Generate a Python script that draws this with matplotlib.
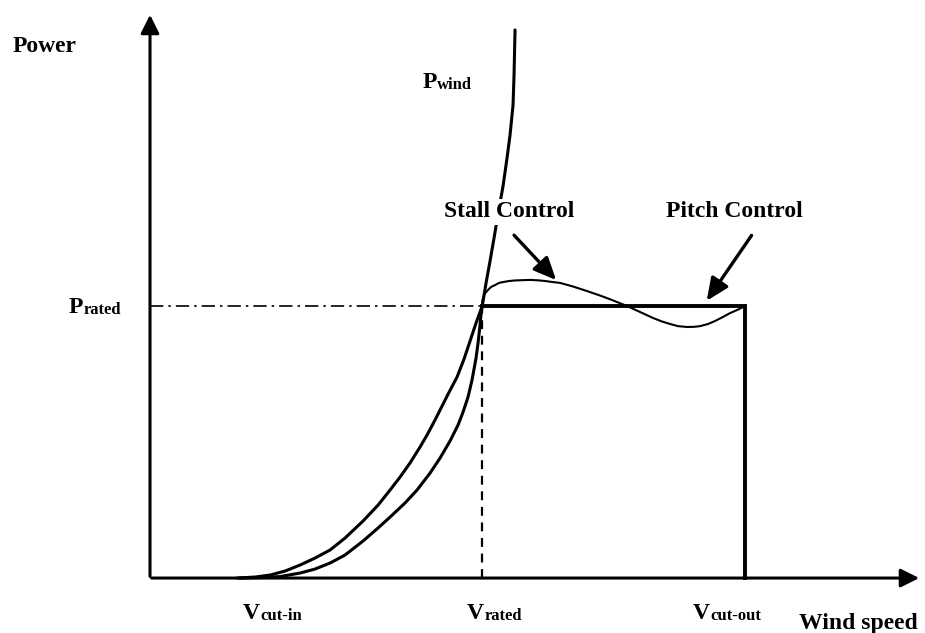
import matplotlib.pyplot as plt
import numpy as np

# characteristic wind speeds (m/s) and rated power (p.u.)
v_cut_in = 3.0
v_rated = 11.0
v_cut_out = 19.7
p_rated = 1.0

# available wind power curve
wind_v = [2.881, 3.477, 3.974, 4.470, 4.967, 5.464, 5.960, 6.457, 7.053, 7.550, 7.947,
          8.278, 8.609, 8.940, 9.172, 9.437, 9.603, 9.868, 10.166, 10.397, 10.596,
          10.795, 11.0, 11.126, 11.258, 11.391, 11.523, 11.689, 11.821, 11.921,
          12.020, 12.053, 12.086]
wind_p = [0.0, 0.0037, 0.011, 0.0257, 0.0478, 0.0735, 0.103, 0.147, 0.2096, 0.268,
          0.3235, 0.371, 0.423, 0.4816, 0.5257, 0.581, 0.6176, 0.676, 0.739, 0.805,
          0.871, 0.9375, 1.0, 1.0846, 1.165, 1.25, 1.338, 1.441, 1.544, 1.629, 1.739,
          1.849, 2.015]

# turbine power below rated speed
turb_v = [3.0, 3.642, 4.305, 4.967, 5.464, 5.960, 6.457, 7.053, 7.550, 7.947, 8.444,
          8.841, 9.272, 9.603, 9.934, 10.199, 10.364, 10.530, 10.662, 10.795, 10.861,
          10.927, 10.960, 11.0]
turb_p = [0.0, 0.0018, 0.0055, 0.0184, 0.0331, 0.0551, 0.0846, 0.136, 0.184, 0.224,
          0.276, 0.3235, 0.386, 0.441, 0.504, 0.5625, 0.610, 0.6654, 0.728, 0.809,
          0.864, 0.930, 0.9706, 1.0]

# stall-controlled power above rated speed
stall_v = [11.0, 11.010, 11.060, 11.126, 11.192, 11.291, 11.424, 11.556, 11.689, 11.887,
           12.086, 12.318, 12.583, 12.848, 13.079, 13.344, 13.576, 14.007, 14.470,
           14.901, 15.298, 15.795, 16.225, 16.656, 16.954, 17.219, 17.483, 17.781,
           18.013, 18.212, 18.477, 18.709, 18.940, 19.205, 19.470, 19.70]
stall_p = [1.0, 1.022, 1.040, 1.051, 1.059, 1.070, 1.077, 1.085, 1.088, 1.092, 1.094,
           1.095, 1.096, 1.0945, 1.092, 1.088, 1.085, 1.0717, 1.055, 1.0386, 1.022, 1.0,
           0.978, 0.956, 0.943, 0.934, 0.926, 0.923, 0.9235, 0.926, 0.934, 0.945, 0.958,
           0.974, 0.987, 1.0]

fig = plt.figure(figsize=(9.25, 6.33), dpi=100)
ax = fig.add_axes([0, 0, 1, 1])
ax.set_xlim(-4.967, 25.66)
ax.set_ylim(-0.202, 2.125)
ax.axis("off")

serif = "Liberation Serif"
axis_head = "-|>,head_length=0.8,head_width=0.4"
ptr_head = "-|>,head_length=0.85,head_width=0.38"

# axes with arrow heads
ax.annotate("", xy=(0, 2.081), xytext=(0, -0.004),
            arrowprops=dict(arrowstyle=axis_head, lw=2.2, color="black", mutation_scale=14))
ax.annotate("", xy=(25.56, 0), xytext=(-0.04, 0),
            arrowprops=dict(arrowstyle=axis_head, lw=2.2, color="black", mutation_scale=14))

# rated guides
ax.plot([0, v_rated], [p_rated, p_rated], color="black", lw=1.2, ls=(0, (8, 3, 1.5, 3)))
ax.plot([v_rated, v_rated], [0, p_rated], color="black", lw=1.6, ls=(0, (4, 3)))

# curves
ax.plot(wind_v, wind_p, color="black", lw=2.2, solid_capstyle="round",
        solid_joinstyle="round")
ax.plot(turb_v, turb_p, color="black", lw=2.2, solid_joinstyle="round")
ax.plot([v_rated, v_cut_out, v_cut_out], [p_rated, p_rated, 0], color="black", lw=2.8,
        solid_joinstyle="miter")
ax.plot(stall_v, stall_p, color="black", lw=1.5, solid_joinstyle="round")

tkw = dict(fontfamily=serif, fontweight="bold", color="black")

ax.text(-4.54, 1.934, "Power", fontsize=17, va="baseline", ha="left", **tkw)
ax.text(21.49, -0.1875, "Wind speed", fontsize=17, va="baseline", ha="left", **tkw)

ax.text(11.89, 1.346, "Stall Control", fontsize=17, ha="center", va="center", zorder=5,
        bbox=dict(facecolor="white", edgecolor="none", pad=2), **tkw)
ax.text(19.34, 1.346, "Pitch Control", fontsize=17, ha="center", va="center", **tkw)


def sub_label(x, y, main, sub):
    t = ax.text(x, y, main, fontsize=17, ha="left", va="baseline", **tkw)
    ax.annotate(sub, xy=(1, 0), xycoords=t, ha="left", va="bottom",
                fontsize=12, **tkw)


sub_label(9.01, 1.801, "P", "wind")
sub_label(-2.68, 0.974, "P", "rated")
sub_label(3.08, -0.151, "V", "cut-in")
sub_label(10.50, -0.151, "V", "rated")
sub_label(17.98, -0.151, "V", "cut-out")

# pointers to the control regions
ax.annotate("", xy=(13.51, 1.088), xytext=(11.99, 1.268),
            arrowprops=dict(arrowstyle=ptr_head, lw=2.4, color="black", mutation_scale=16))
ax.annotate("", xy=(18.38, 1.011), xytext=(19.97, 1.268),
            arrowprops=dict(arrowstyle=ptr_head, lw=2.4, color="black", mutation_scale=16))

fig.savefig("out.png", dpi=100)
